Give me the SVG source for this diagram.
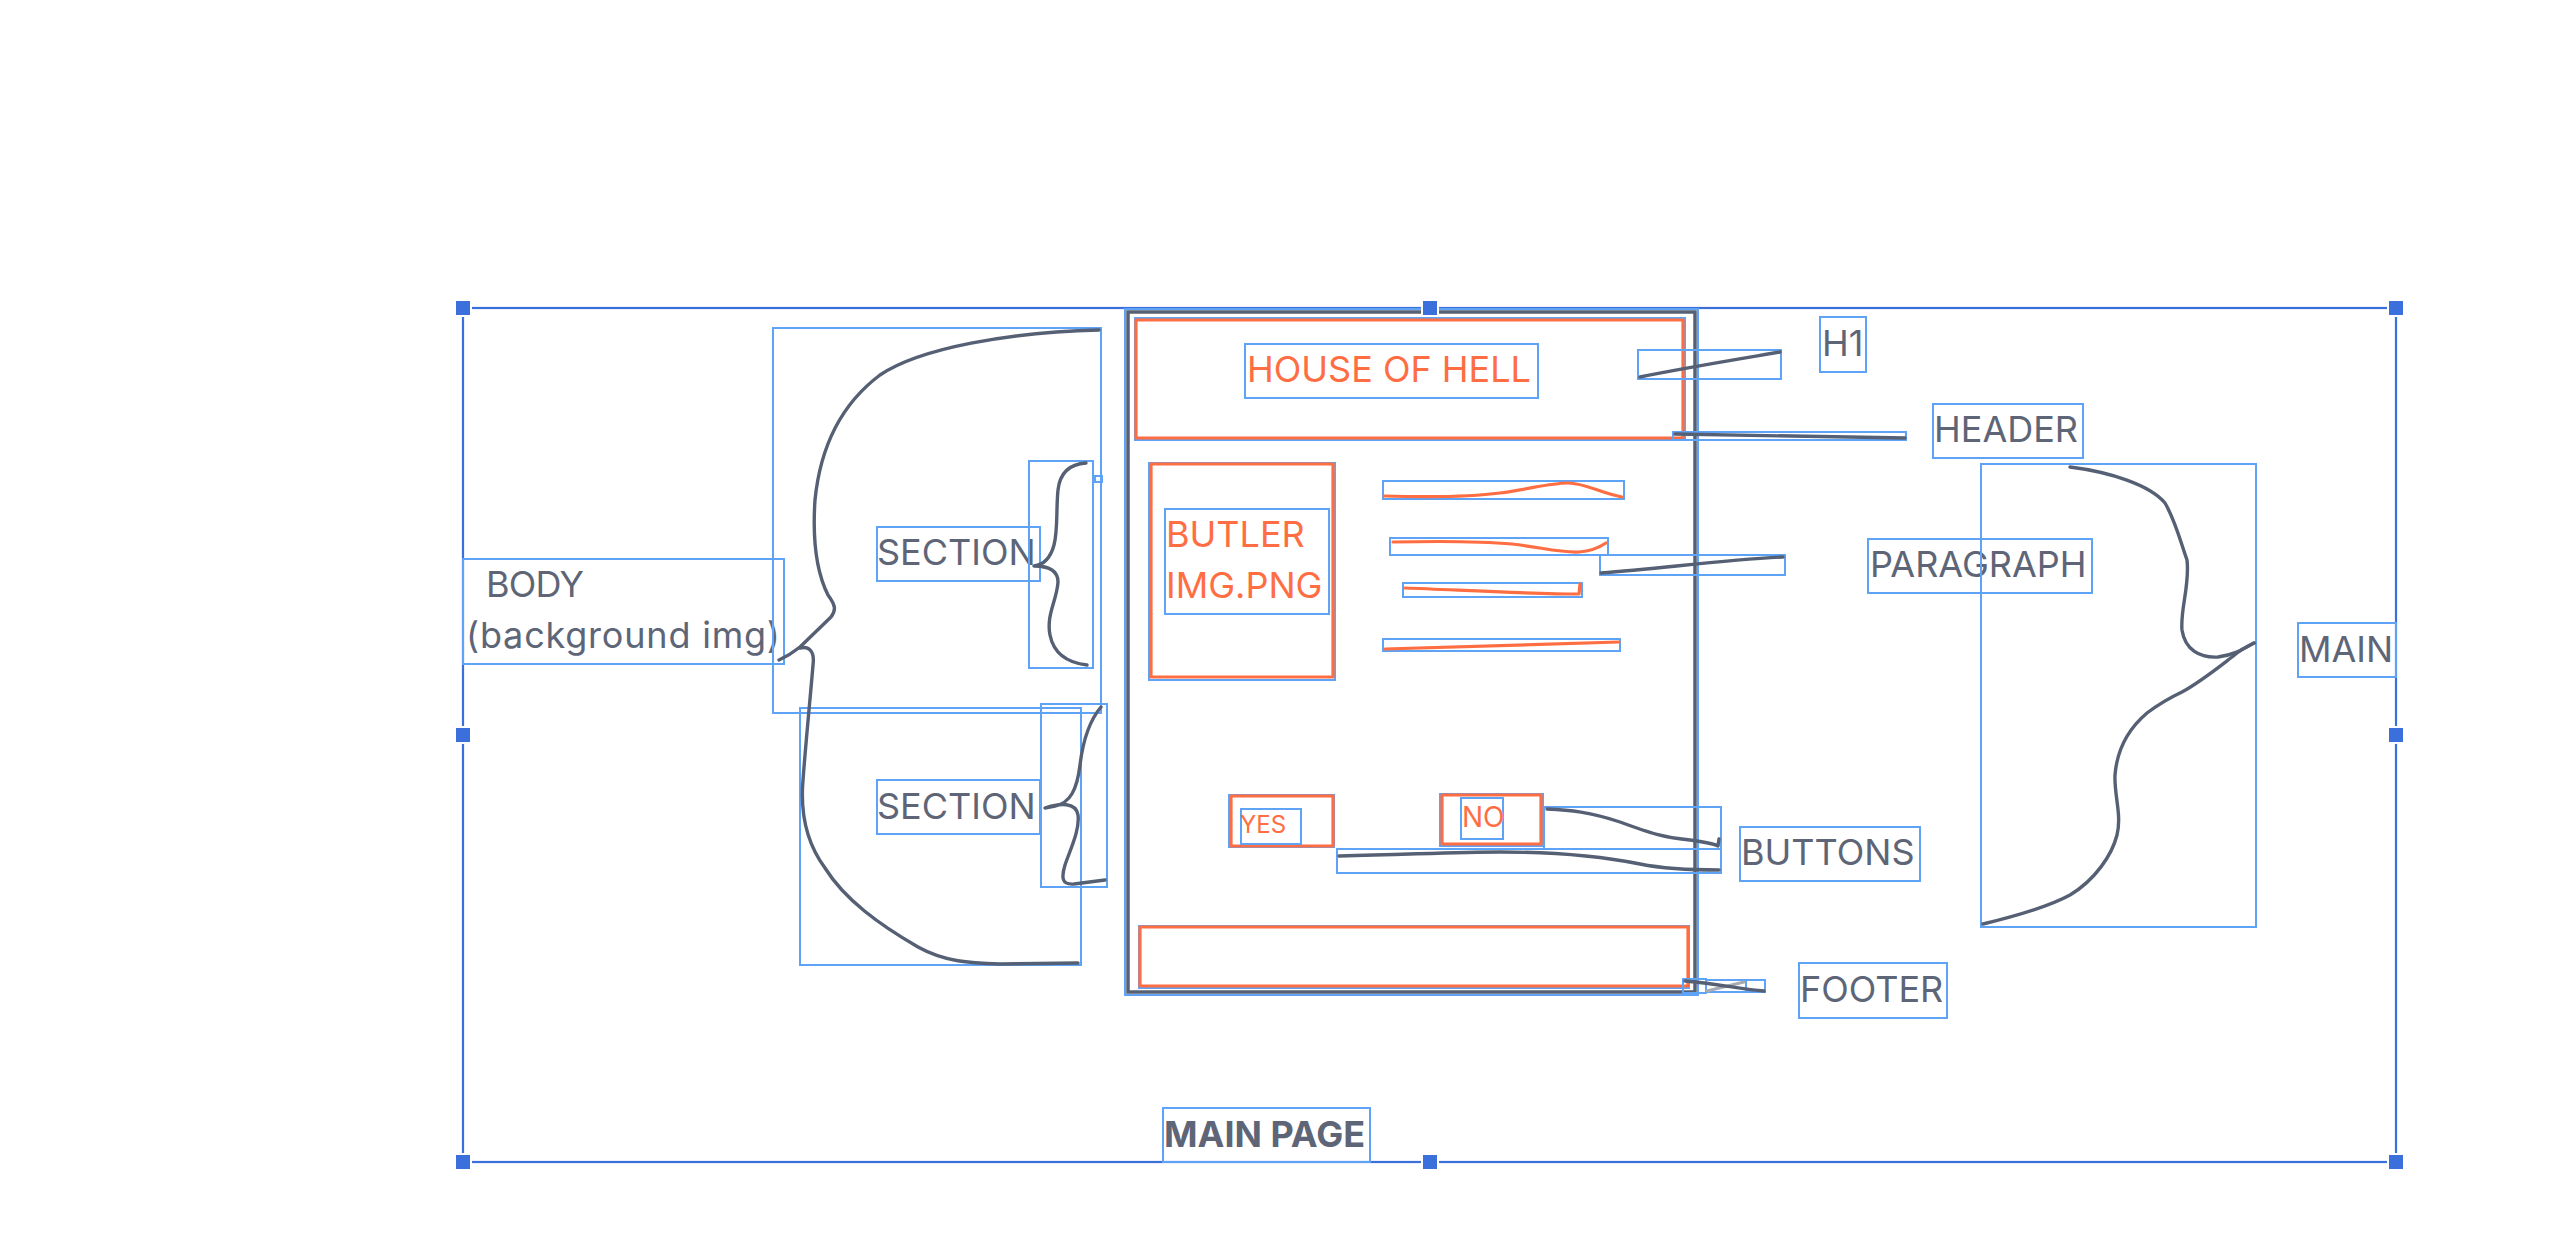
<svg xmlns="http://www.w3.org/2000/svg" width="2560" height="1246" viewBox="0 0 2560 1246">
<style>
.bg{fill:#ffffff}
.sel{fill:none;stroke:#5ea3f6;stroke-width:2}
.frame{fill:none;stroke:#3b6fdb;stroke-width:2.2}
.hdl{fill:#3b6fdb;stroke:#ffffff;stroke-width:2}
.ink{fill:none;stroke:#566074;stroke-width:3.4;stroke-linecap:round;stroke-linejoin:round}
.ink2{fill:none;stroke:#566074;stroke-width:3.5}
.ghost{fill:none;stroke:#a7abb4;stroke-width:3;stroke-linecap:round}
.or{fill:none;stroke:#ff6e42;stroke-width:3.2;stroke-linecap:round;stroke-linejoin:round}
.lbl{font-family:Inter,"Noto Sans",sans-serif;font-size:36px;fill:#5d6577}
.olbl{font-family:Inter,"Noto Sans",sans-serif;font-size:36px;fill:#ff6e42}
.bold{font-weight:700}
</style>
<rect class="bg" x="0" y="0" width="2560" height="1246"/>

<g id="main-page">
  <rect class="frame" x="463" y="308" width="1933" height="854"/>
  <rect class="sel" x="1163" y="1108" width="207" height="54"/>
  <text class="lbl bold" x="1164" y="1147">MAIN PAGE</text>
</g>

<g id="body">
  <rect class="sel" x="463" y="559" width="321" height="105"/>
  <text class="lbl" x="486" y="597" textLength="98">BODY</text>
  <text class="lbl" x="466" y="648" textLength="314">(background img)</text>
</g>

<g id="section-1">
  <rect class="sel" x="877" y="527" width="163" height="54"/>
  <text class="lbl" x="877" y="565">SECTION</text>
</g>

<g id="section-2">
  <rect class="sel" x="877" y="780" width="163" height="54"/>
  <text class="lbl" x="877" y="819">SECTION</text>
</g>

<g id="page-container">
  <rect class="sel" x="1125" y="309" width="573" height="686"/>
  <rect class="ink2" x="1128" y="312" width="567" height="680"/>
</g>

<g id="header-box">
  <rect class="sel" x="1135" y="318" width="550" height="122"/>
  <rect class="or" x="1136" y="320" width="547" height="118"/>
</g>

<g id="house-of-hell">
  <rect class="sel" x="1245" y="344" width="293" height="54"/>
  <text class="olbl" x="1247" y="382">HOUSE OF HELL</text>
</g>

<g id="butler-img">
  <rect class="sel" x="1149" y="463" width="186" height="217"/>
  <rect class="or" x="1151" y="464" width="182" height="213"/>
  <rect class="sel" x="1165" y="509" width="164" height="105"/>
  <text class="olbl" x="1166" y="547">BUTLER</text>
  <text class="olbl" x="1166" y="598">IMG.PNG</text>
</g>

<g id="paragraph-lines">
  <rect class="sel" x="1383" y="481" width="241" height="18"/>
  <path class="or" d="M1384,496 C1420,497 1470,497 1500,493 C1530,489 1550,483 1568,483 C1585,483 1600,493 1622,497"/>
  <rect class="sel" x="1390" y="538" width="218" height="17"/>
  <path class="or" d="M1393,542 C1440,541 1490,542 1512,544 C1540,547 1560,553 1579,552 C1592,551 1600,547 1606,543"/>
  <rect class="sel" x="1403" y="583" width="179" height="14"/>
  <path class="or" d="M1405,588 C1460,590 1530,594 1579,594 L1580,584"/>
  <rect class="sel" x="1383" y="639" width="237" height="12"/>
  <path class="or" d="M1385,649 L1619,642"/>
</g>

<g id="yes-button">
  <rect class="sel" x="1229" y="795" width="105" height="52"/>
  <rect class="or" x="1231" y="796" width="102" height="50"/>
  <rect class="sel" x="1241" y="809" width="60" height="35"/>
  <text class="olbl" x="1240" y="833" style="font-size:24px">YES</text>
</g>

<g id="no-button">
  <rect class="sel" x="1440" y="794" width="103" height="52"/>
  <rect class="or" x="1442" y="795" width="99" height="49"/>
  <rect class="sel" x="1461" y="798" width="42" height="41"/>
  <text class="olbl" x="1462" y="827" style="font-size:28px">NO</text>
</g>

<g id="footer-box">
  <rect class="sel" x="1139" y="926" width="550" height="62"/>
  <rect class="or" x="1140" y="927" width="548" height="59"/>
</g>

<g id="h1-label">
  <rect class="sel" x="1820" y="317" width="46" height="55"/>
  <text class="lbl" x="1822" y="356">H1</text>
</g>

<g id="header-label">
  <rect class="sel" x="1933" y="404" width="150" height="54"/>
  <text class="lbl" x="1934" y="442">HEADER</text>
</g>

<g id="paragraph-label">
  <rect class="sel" x="1868" y="539" width="224" height="54"/>
  <text class="lbl" x="1870" y="577">PARAGRAPH</text>
</g>

<g id="main-label">
  <rect class="sel" x="2298" y="623" width="98" height="54"/>
  <text class="lbl" x="2299" y="662">MAIN</text>
</g>

<g id="buttons-label">
  <rect class="sel" x="1740" y="827" width="180" height="54"/>
  <text class="lbl" x="1741" y="865">BUTTONS</text>
</g>

<g id="footer-label">
  <rect class="sel" x="1799" y="963" width="148" height="55"/>
  <text class="lbl" x="1800" y="1002">FOOTER</text>
</g>

<g id="connectors">
  <rect class="sel" x="773" y="328" width="328" height="385"/>
  <rect class="sel" x="800" y="708" width="281" height="257"/>
  <path class="ink" d="M1099,330 C1010,332 920,348 880,375 C840,405 820,450 815,500 C812,545 818,575 828,595 C836,606 836,610 831,617 L800,647 Q790,655 779,660"/>
  <path class="ink" d="M800,648 C808,646 815,650 813,665 C811,690 806,740 803,780 C800,815 808,845 825,868 C845,900 880,925 918,947 C945,962 970,963 1000,964 L1078,963"/>
  <rect class="sel" x="1029" y="461" width="64" height="207"/>
  <rect class="sel" x="1095" y="476" width="7" height="6"/>
  <path class="ink" d="M1086,463 C1070,464 1060,472 1058,490 C1056,510 1058,530 1054,545 C1050,560 1042,565 1034,566 C1048,566 1058,570 1058,582 C1057,600 1046,615 1050,635 C1054,655 1070,663 1087,665"/>
  <rect class="sel" x="1041" y="704" width="66" height="183"/>
  <path class="ink" d="M1101,707 C1090,720 1083,740 1080,765 C1077,790 1070,803 1055,806 L1045,808 C1060,803 1076,802 1078,815 C1080,830 1070,850 1065,865 C1061,878 1062,885 1074,884 L1105,880"/>
  <rect class="sel" x="1638" y="350" width="143" height="29"/>
  <path class="ink" d="M1640,377 C1690,367 1740,359 1780,352"/>
  <rect class="sel" x="1673" y="432" width="233" height="8"/>
  <path class="ink" d="M1675,434 L1905,438"/>
  <rect class="sel" x="1600" y="555" width="185" height="20"/>
  <path class="ink" d="M1601,573 C1660,569 1720,560 1783,557"/>
  <rect class="sel" x="1544" y="807" width="177" height="42"/>
  <path class="ink" d="M1547,809 C1570,810 1590,812 1620,822 C1650,833 1665,838 1690,840 C1705,842 1712,843 1718,846 L1719,839"/>
  <rect class="sel" x="1337" y="849" width="384" height="24"/>
  <path class="ink" d="M1339,856 C1420,854 1460,852 1500,852 C1560,852 1600,856 1640,864 C1665,869 1690,870 1719,870"/>
  <rect class="sel" x="1683" y="979" width="23" height="14"/>
  <rect class="sel" x="1706" y="980" width="40" height="12"/>
  <rect class="sel" x="1746" y="980" width="19" height="12"/>
  <path class="ghost" d="M1707,991 L1744,982"/>
  <path class="ink" d="M1685,981 C1720,984 1740,989 1764,991"/>
  <rect class="sel" x="1981" y="464" width="275" height="463"/>
  <path class="ink" d="M2070,467 C2110,472 2150,485 2165,503 C2175,520 2180,540 2187,560 C2190,585 2180,610 2182,630 C2185,650 2200,658 2218,657 C2235,655 2245,648 2254,643"/>
  <path class="ink" d="M2254,643 C2244,648 2240,650 2232,657 C2215,670 2200,682 2182,692 C2165,700 2155,707 2147,713 C2127,730 2117,750 2115,775 C2114,795 2122,815 2117,835 C2112,855 2095,880 2070,895 C2050,906 2020,915 1983,924"/>
</g>

<g id="handles">
  <rect class="hdl" x="455" y="300" width="16" height="16"/>
  <rect class="hdl" x="1422" y="300" width="16" height="16"/>
  <rect class="hdl" x="2388" y="300" width="16" height="16"/>
  <rect class="hdl" x="455" y="727" width="16" height="16"/>
  <rect class="hdl" x="2388" y="727" width="16" height="16"/>
  <rect class="hdl" x="455" y="1154" width="16" height="16"/>
  <rect class="hdl" x="1422" y="1154" width="16" height="16"/>
  <rect class="hdl" x="2388" y="1154" width="16" height="16"/>
</g>
</svg>
